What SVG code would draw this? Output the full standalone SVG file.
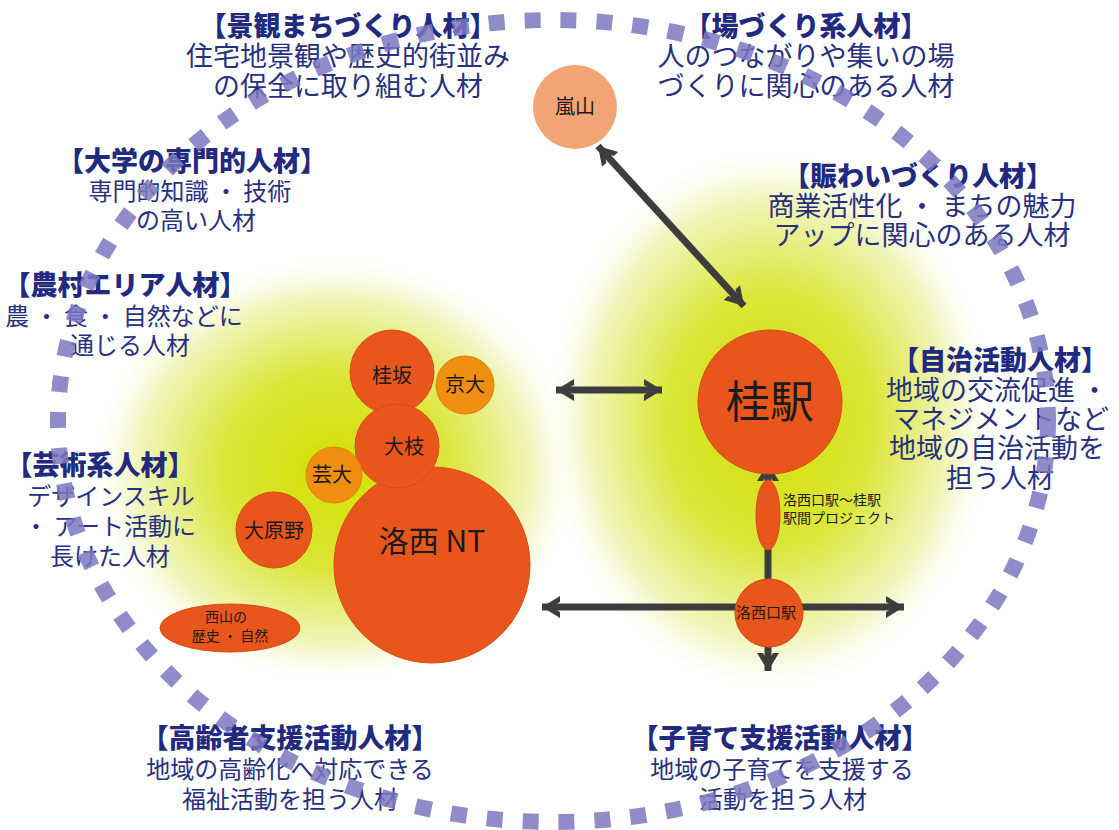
<svg xmlns="http://www.w3.org/2000/svg" width="1119" height="830" viewBox="0 0 1119 830">
<defs>
<radialGradient id="glowL" cx="0.5" cy="0.5" r="0.5">
<stop offset="0" stop-color="#d2e000"/>
<stop offset="0.45" stop-color="#dbe63a"/>
<stop offset="0.8" stop-color="#f2f6c0"/>
<stop offset="1" stop-color="#ffffff" stop-opacity="0"/>
</radialGradient>
<marker id="ah" viewBox="-8 -12 22 24" refX="12" refY="0" markerWidth="22" markerHeight="24" markerUnits="userSpaceOnUse" orient="auto-start-reverse">
<path d="M-6,-11 L12,0 L-6,11 L-6,5 L3,0 L-6,-5 Z" fill="#3d3d3d"/>
</marker>
<style>
.h{font-family:"Noto Sans CJK JP","Noto Sans",sans-serif;font-weight:900;font-size:27px;fill:#222a80;text-anchor:middle}
.b{font-family:"Noto Sans CJK JP","Noto Sans",sans-serif;font-size:24px;fill:#283080;text-anchor:middle}
.bl{font-size:27px}
.n{font-family:"Noto Sans CJK JP","Noto Sans",sans-serif;fill:#1a1a1a;text-anchor:middle}
.s{text-anchor:start}
.red{fill:#e8561c;stroke:#d84a14;stroke-width:1}
.org{fill:#ef8e10;stroke:#e07f08;stroke-width:1}
.conn{stroke:#3d3d3d;stroke-width:7;fill:none}
</style>
</defs>
<rect width="1119" height="830" fill="#ffffff"/>
<g id="glows">
<ellipse cx="335" cy="470" rx="250" ry="220" fill="url(#glowL)"/>
<ellipse cx="770" cy="420" rx="230" ry="280" fill="url(#glowL)"/>
</g>
<g id="labels">
<g id="keikan">
<text class="h" x="348" y="36">【景観まちづくり人材】</text>
<text class="b bl" x="348" y="66">住宅地景観や歴史的街並み</text>
<text class="b bl" x="348" y="96">の保全に取り組む人材</text>
</g>
<g id="badukuri">
<text class="h" x="806" y="36">【場づくり系人材】</text>
<text class="b bl" x="806" y="66">人のつながりや集いの場</text>
<text class="b bl" x="806" y="96">づくりに関心のある人材</text>
</g>
<g id="daigaku">
<text class="h" x="192" y="171">【大学の専門的人材】</text>
<text class="b" x="190" y="200">専門的知識 ・ 技術</text>
<text class="b" x="196" y="229">の高い人材</text>
</g>
<g id="noson">
<text class="h" x="125" y="295">【農村エリア人材】</text>
<text class="b" x="124" y="325">農 ・ 食 ・ 自然などに</text>
<text class="b" x="130" y="354">通じる人材</text>
</g>
<g id="nigiwai">
<text class="h" x="918" y="186">【賑わいづくり人材】</text>
<text class="b bl" x="922" y="216">商業活性化 ・ まちの魅力</text>
<text class="b bl" x="922" y="245">アップに関心のある人材</text>
</g>
<g id="jichi">
<text class="h" x="1000" y="370">【自治活動人材】</text>
<text class="b bl" x="997" y="400">地域の交流促進 ・</text>
<text class="b bl" x="1001" y="429">マネジメントなど</text>
<text class="b bl" x="997" y="458">地域の自治活動を</text>
<text class="b bl" x="1000" y="488">担う人材</text>
</g>
<g id="geijutsu">
<text class="h" x="100" y="475">【芸術系人材】</text>
<text class="b" x="111" y="505">デザインスキル</text>
<text class="b" x="110" y="535">・ アート活動に</text>
<text class="b" x="110" y="565">長けた人材</text>
</g>
<g id="koreisha">
<text class="h" x="290" y="748">【高齢者支援活動人材】</text>
<text class="b" x="290" y="778">地域の高齢化へ対応できる</text>
<text class="b" x="290" y="808">福祉活動を担う人材</text>
</g>
<g id="kosodate">
<text class="h" x="780" y="748">【子育て支援活動人材】</text>
<text class="b" x="782" y="778">地域の子育てを支援する</text>
<text class="b" x="783" y="808">活動を担う人材</text>
</g>
</g>
<g id="ring">
<ellipse cx="553" cy="421" rx="495" ry="401" fill="none" stroke="#7c78c0" stroke-opacity="0.85" stroke-width="16" stroke-dasharray="16 20"/>
</g>
<g id="connectors">
<line class="conn" x1="598" y1="146" x2="744" y2="306" marker-start="url(#ah)" marker-end="url(#ah)"/>
<line class="conn" x1="556" y1="390" x2="662" y2="390" marker-start="url(#ah)" marker-end="url(#ah)"/>
<line class="conn" x1="768" y1="590" x2="768" y2="463" marker-end="url(#ah)"/>
<line class="conn" x1="542" y1="607" x2="904" y2="607" marker-start="url(#ah)" marker-end="url(#ah)"/>
<line class="conn" x1="768" y1="640" x2="768" y2="671" marker-end="url(#ah)"/>
</g>
<g id="arashiyama">
<circle cx="575" cy="107" r="42" fill="#f3a474"/>
<text class="n" x="575" y="114" font-size="20">嵐山</text>
</g>
<g id="katsuraeki">
<circle class="red" cx="770" cy="402" r="72"/>
<text class="n" x="770" y="418" font-size="44">桂駅</text>
</g>
<g id="project">
<ellipse class="red" cx="768" cy="515" rx="12" ry="35"/>
<text class="n s" x="783" y="505" font-size="14">洛西口駅～桂駅</text>
<text class="n s" x="783" y="523" font-size="14">駅間プロジェクト</text>
</g>
<g id="rakusaiguchi">
<circle class="red" cx="769" cy="613" r="34"/>
<text class="n" x="766" y="618" font-size="15">洛西口駅</text>
</g>
<g id="rakusaiNT">
<circle class="red" cx="432" cy="565" r="98"/>
<text class="n" x="432" y="552" font-size="30">洛西 NT</text>
</g>
<g id="katsurazaka">
<circle class="red" cx="392" cy="372" r="42"/>
<text class="n" x="392" y="383" font-size="20">桂坂</text>
</g>
<g id="kyodai">
<circle class="org" cx="465" cy="385" r="29"/>
<text class="n" x="465" y="392" font-size="20">京大</text>
</g>
<g id="oeda">
<circle class="red" cx="397" cy="446" r="42"/>
<text class="n" x="404" y="454" font-size="20">大枝</text>
</g>
<g id="geidai">
<circle class="org" cx="334" cy="475" r="28"/>
<text class="n" x="332" y="482" font-size="20">芸大</text>
</g>
<g id="oharano">
<circle class="red" cx="274" cy="530" r="38"/>
<text class="n" x="274" y="538" font-size="20">大原野</text>
</g>
<g id="nishiyama">
<ellipse class="red" cx="230" cy="628" rx="70" ry="24"/>
<text class="n" x="226" y="622" font-size="14">西山の</text>
<text class="n" x="230" y="641" font-size="14">歴史 ・ 自然</text>
</g>
</svg>
